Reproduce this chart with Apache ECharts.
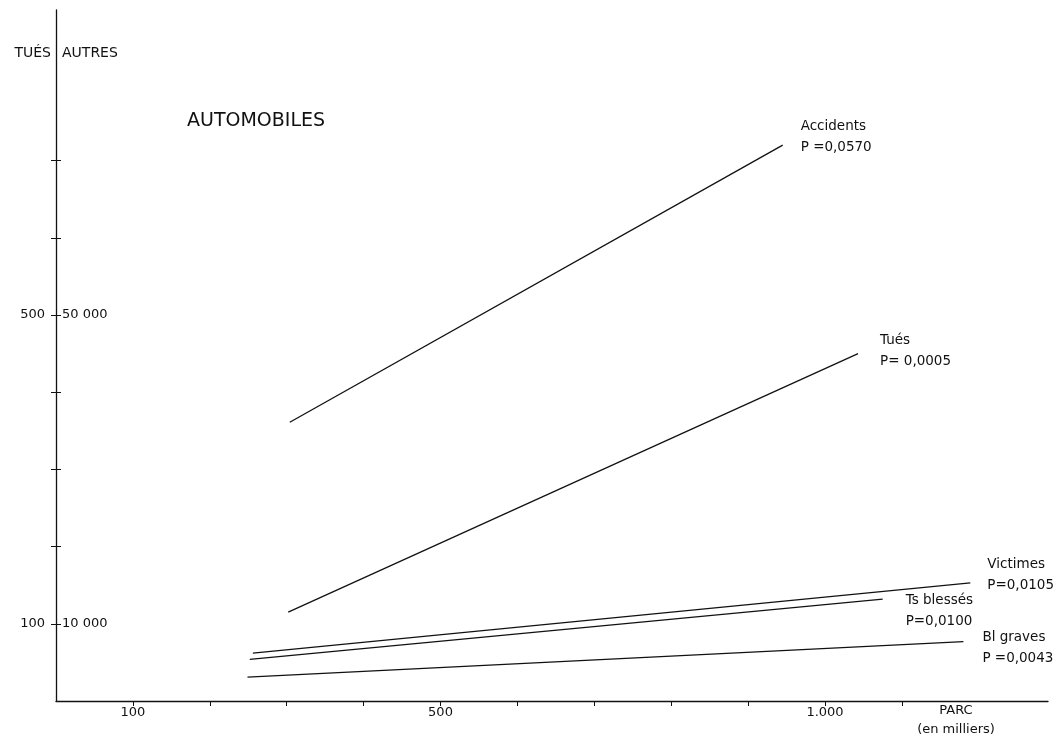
<!DOCTYPE html>
<html>
<head>
<meta charset="utf-8">
<script src="https://cdn.jsdelivr.net/npm/echarts@6/dist/echarts.min.js"></script>
<style>
html,body{margin:0;padding:0;background:#fff;}
#chart{width:1055px;height:734px;}
</style>
</head>
<body>
<div id="chart"></div>
<script>
// ---- data ----
const accidentsX = [304, 945];
const accidentsY = [36100, 72000];
const tuesX = [302, 1043];
const tuesY = [115, 450];           // left scale (Tués)
const victimesX = [256, 1189];
const victimesY = [6200, 15300];
const blessesX = [252, 1075];
const blessesY = [5400, 13200];
const gravesX = [249, 1180];
const gravesY = [3100, 7700];

const xTicks = [100, 200, 300, 400, 500, 600, 700, 800, 900, 1000, 1100];
const xLabels = [100, 500, 1000];
const tuesTicks = [100, 200, 300, 400, 500, 600, 700];
const tuesLabels = [100, 500];
const autresLabels = [10000, 50000];
const autresTickMax = 70000;   // inner ticks every 10 000 up to 70 000

const seriesLabels = {
  accidents: 'Accidents\nP =0,0570',
  tues: 'Tués\nP= 0,0005',
  victimes: 'Victimes\nP=0,0105',
  blesses: 'Ts blessés\nP=0,0100',
  graves: 'Bl graves\nP =0,0043'
};

const FONT = 'DejaVu Sans';
const Y_MAX = 89500;
const GRID_TOP = 10, GRID_BOTTOM = 33, H = 734;
const plotH = H - GRID_TOP - GRID_BOTTOM;
const pairs = (xs, ys) => xs.map((x, i) => [x, ys[i]]);

function lineSeries(name, data, yIdx, offset) {
  return {
    type: 'line', name: name, data: data, xAxisIndex: 0, yAxisIndex: yIdx,
    symbol: 'none', silent: true,
    lineStyle: {color: '#111', width: 1.3},
    endLabel: {
      show: true, formatter: seriesLabels[name], offset: offset,
      color: '#111', fontFamily: FONT, fontSize: 13.5, lineHeight: 21, align: 'left'
    }
  };
}

const chart = echarts.init(document.getElementById('chart'));
chart.setOption({
  animation: false,
  backgroundColor: '#fff',
  grid: [
    {left: 56, right: 7, top: GRID_TOP, bottom: GRID_BOTTOM, containLabel: false, outerBoundsMode: 'none'},
    // helper grid carrying the inner half of the y-axis tick crosses
    {left: 56, right: 7, bottom: GRID_BOTTOM, height: plotH * autresTickMax / Y_MAX,
      containLabel: false, outerBoundsMode: 'none'}
  ],
  xAxis: [
    {
      gridIndex: 0, type: 'value', min: 0, max: 1290, interval: 100,
      name: 'PARC\n(en milliers)', nameLocation: 'end', nameGap: -92,
      nameTextStyle: {color: '#111', fontFamily: FONT, fontSize: 13, align: 'center',
        verticalAlign: 'top', lineHeight: 19, padding: [0, 0, 0, 0]},
      axisLine: {show: true, onZero: false, lineStyle: {color: '#111', width: 1.3}},
      axisTick: {show: true, length: 5, customValues: xTicks, lineStyle: {color: '#111'}},
      axisLabel: {show: true, customValues: xLabels, margin: 5, color: '#111',
        fontFamily: FONT, fontSize: 13,
        formatter: v => v === 1000 ? '1.000' : String(v)},
      splitLine: {show: false}
    },
    {
      gridIndex: 1, type: 'value', min: 0, max: 1290, show: false
    }
  ],
  yAxis: [
    {
      gridIndex: 0, type: 'value', min: 0, max: Y_MAX / 100, interval: 100, position: 'left',
      name: 'TUÉS', nameLocation: 'end', nameGap: -43,
      nameTextStyle: {color: '#111', fontFamily: FONT, fontSize: 14, align: 'right',
        verticalAlign: 'middle', padding: [0, 5, 0, 0]},
      axisLine: {show: true, onZero: false, lineStyle: {color: '#111', width: 1.3}},
      axisTick: {show: true, length: 5, customValues: tuesTicks, lineStyle: {color: '#111'}},
      axisLabel: {show: true, customValues: tuesLabels, margin: 11, color: '#111',
        fontFamily: FONT, fontSize: 13},
      splitLine: {show: false}
    },
    {
      gridIndex: 0, type: 'value', min: 0, max: Y_MAX, interval: 10000, position: 'left', offset: 0,
      name: 'AUTRES', nameLocation: 'end', nameGap: -43,
      nameTextStyle: {color: '#111', fontFamily: FONT, fontSize: 14, align: 'left',
        verticalAlign: 'middle', padding: [0, 0, 0, 6]},
      axisLine: {show: false},
      axisTick: {show: false},
      axisLabel: {show: true, inside: true, customValues: autresLabels, margin: 6, color: '#111',
        fontFamily: FONT, fontSize: 13,
        formatter: v => String(v / 1000) + ' 000'},
      splitLine: {show: false}
    },
    {
      gridIndex: 1, type: 'value', min: 0, max: autresTickMax, interval: 10000, position: 'left',
      axisLine: {show: false},
      axisTick: {show: true, inside: true, length: 5, lineStyle: {color: '#111'}},
      axisLabel: {show: false},
      splitLine: {show: false}
    }
  ],
  title: {
    text: 'AUTOMOBILES', left: 182, top: 107,
    textStyle: {color: '#111', fontFamily: FONT, fontSize: 19, fontWeight: 'normal'}
  },
  series: [
    lineSeries('accidents', pairs(accidentsX, accidentsY), 1, [10, -8]),
    lineSeries('tues', pairs(tuesX, tuesY), 0, [14, -3]),
    lineSeries('victimes', pairs(victimesX, victimesY), 1, [9, -8]),
    lineSeries('blesses', pairs(blessesX, blessesY), 1, [15, 12]),
    lineSeries('graves', pairs(gravesX, gravesY), 1, [11, 6])
  ]
});
</script>
</body>
</html>
